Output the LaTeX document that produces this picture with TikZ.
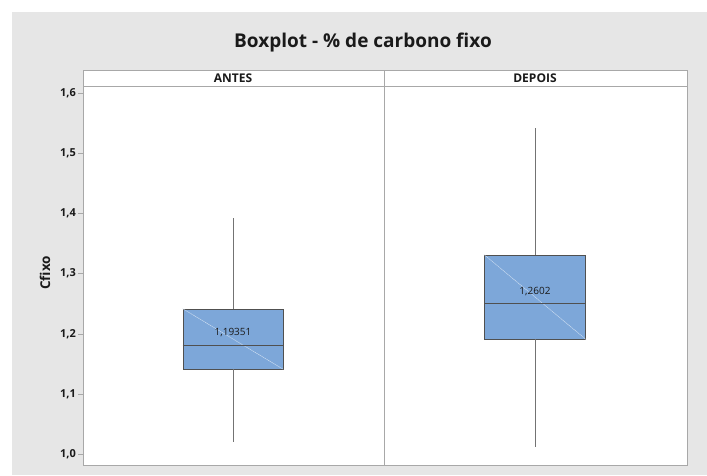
\documentclass[tikz,border=0pt]{standalone}
\usepackage{fontspec}
\setmainfont{Open Sans}
\definecolor{bgray}{HTML}{E6E6E6}
\definecolor{boxfill}{HTML}{7DA7D9}
\definecolor{framec}{HTML}{A8A8A8}
\definecolor{boxline}{HTML}{505050}
\definecolor{txt}{HTML}{1A1A1A}
\tikzset{
  panelframe/.style={draw=framec, line width=1pt},
  tick/.style={draw=framec, line width=0.6pt},
  ticklab/.style={anchor=east, font=\bfseries\fontsize{11}{12}\selectfont, text=txt, inner sep=0pt},
  striplab/.style={font=\bfseries\fontsize{12}{13}\selectfont, text=txt, inner sep=0pt},
  whisk/.style={draw=boxline!80, line width=0.7pt},
  bx/.style={draw=boxline, fill=boxfill, line width=0.8pt},
  diag/.style={draw=white!70!boxfill, line width=0.4pt, dash pattern=on 1.5pt off 0.5pt},
  med/.style={draw=boxline, line width=0.8pt},
  meanlab/.style={font=\fontsize{10}{11}\selectfont, text=txt, inner sep=0pt}
}
\begin{document}
\begin{tikzpicture}[x=1pt,y=-1pt]
\useasboundingbox (0,0) rectangle (707,475);
\fill[white] (0,0) rectangle (707,475);
\fill[bgray] (12,12) rectangle (707,475);
% title
\node[font=\bfseries\fontsize{19}{21}\selectfont, text=txt] (title) at (363,43) {Boxplot - \% de carbono fixo};
% panel
\fill[white] (83,70) rectangle (687,465);
\draw[panelframe] (83,70) rectangle (687,465);
\draw[panelframe] (83,86.5) -- (687,86.5);
\draw[panelframe] (384,70) -- (384,465);
\node[striplab] (antes) at (233,78.5) {ANTES};
\node[striplab] (depois) at (535,78.5) {DEPOIS};
% y axis
\node[font=\bfseries\fontsize{13.5}{15}\selectfont, text=txt, rotate=90] (ylab) at (45,273) {Cfixo};
\foreach \v/\y/\n in {{1,0}/454/t0, {1,1}/393.9/t1, {1,2}/333.8/t2, {1,3}/273.7/t3, {1,4}/213.7/t4, {1,5}/153.6/t5, {1,6}/93.5/t6}{
  \draw[tick] (78,\y) -- (83,\y);
  \node[ticklab] (\n) at (76,\y) {\v};
}
% ANTES box
\coordinate (aTop) at (233,218);
\coordinate (aBot) at (233,442);
\node[bx, minimum width=100pt, minimum height=60pt, inner sep=0pt] (boxA) at (233,339) {};
\draw[whisk] (aTop) -- (boxA.north);
\draw[whisk] (boxA.south) -- (aBot);
\draw[diag] (boxA.north west) -- (boxA.south east);
\draw[med] (boxA.west |- 0,345) -- (boxA.east |- 0,345);
\node[meanlab] (meanA) at (233,333) {1,19351};
% DEPOIS box
\coordinate (dTop) at (535,128);
\coordinate (dBot) at (535,447);
\node[bx, minimum width=101pt, minimum height=84pt, inner sep=0pt] (boxB) at (535,297) {};
\draw[whisk] (dTop) -- (boxB.north);
\draw[whisk] (boxB.south) -- (dBot);
\draw[diag] (boxB.north west) -- (boxB.south east);
\draw[med] (boxB.west |- 0,303) -- (boxB.east |- 0,303);
\node[meanlab] (meanB) at (535,292) {1,2602};
\end{tikzpicture}
\end{document}
